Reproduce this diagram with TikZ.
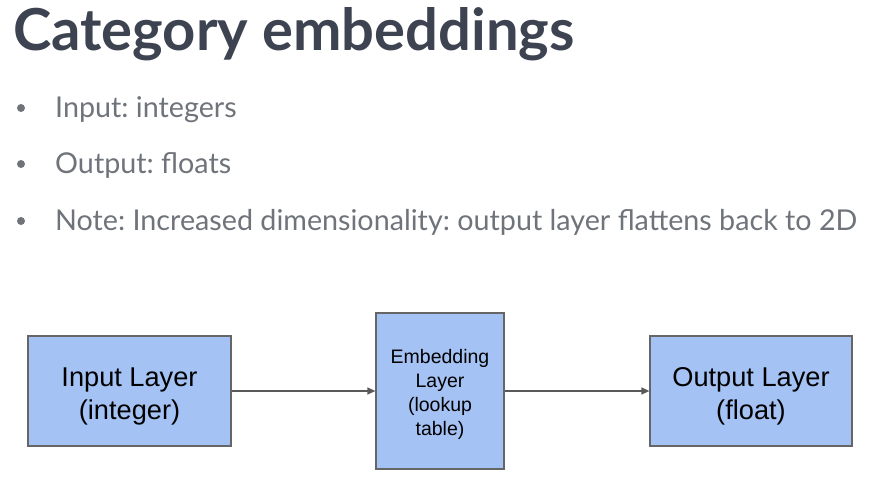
\documentclass[tikz,border=0pt]{standalone}
\usepackage{fontspec}
\setmainfont{Lato}
\newfontfamily\arialfont{Liberation Sans}
\usetikzlibrary{positioning,arrows.meta}

\definecolor{titlegray}{HTML}{3D4350}
\definecolor{textgray}{HTML}{6F747B}
\definecolor{boxfill}{HTML}{A4C2F4}
\definecolor{boxline}{HTML}{666666}
\definecolor{arrowgray}{HTML}{595959}

\tikzset{
  layerbox/.style={draw=boxline, line width=1.2pt, fill=boxfill, inner sep=0pt},
  layertext/.style={align=center, inner sep=0pt, font=\arialfont\fontsize{27.2}{33}\selectfont},
  bullettext/.style={anchor=base west, inner sep=0pt, text=textgray,
    font=\fontsize{28.7}{34}\selectfont},
  flow/.style={draw=arrowgray, line width=1.2pt, -{Triangle[length=8pt,width=7pt]}}
}

\begin{document}
\frenchspacing
\begin{tikzpicture}[x=1pt, y=-1pt]
\useasboundingbox (0,0) rectangle (877,479);

% title
\node[anchor=base west, inner sep=0pt, text=titlegray,
  font=\fontsize{57.9}{60}\selectfont\bfseries] (title) at (13,50) {Category embeddings};

% bullets
\foreach \y/\txt [count=\i] in {117/{Input: integers}, 173/{Output: floats},
    230/{Note: Increased dimensionality: output layer flattens back to 2D}} {
  \fill[textgray] (21,\y-9) circle (4pt);
  \node[bullettext] (item\i) at (55,\y) {\txt};
}

% layers
\node[layerbox, minimum width=203pt, minimum height=110pt,
  label={[layertext, yshift=-5pt]center:Input Layer\\(integer)}] (input) at (129.5,391) {};
\node[layerbox, minimum width=128pt, minimum height=156pt,
  label={[layertext, yshift=-3pt, font=\arialfont\fontsize{19.5}{24}\selectfont]center:Embedding\\Layer\\(lookup\\table)}] (embed) at (440,391) {};
\node[layerbox, minimum width=202pt, minimum height=110pt,
  label={[layertext, yshift=-5pt]center:Output Layer\\(float)}] (output) at (751,391) {};

% arrows
\draw[flow] (input) -- (embed);
\draw[flow] (embed) -- (output);

\end{tikzpicture}
\end{document}
